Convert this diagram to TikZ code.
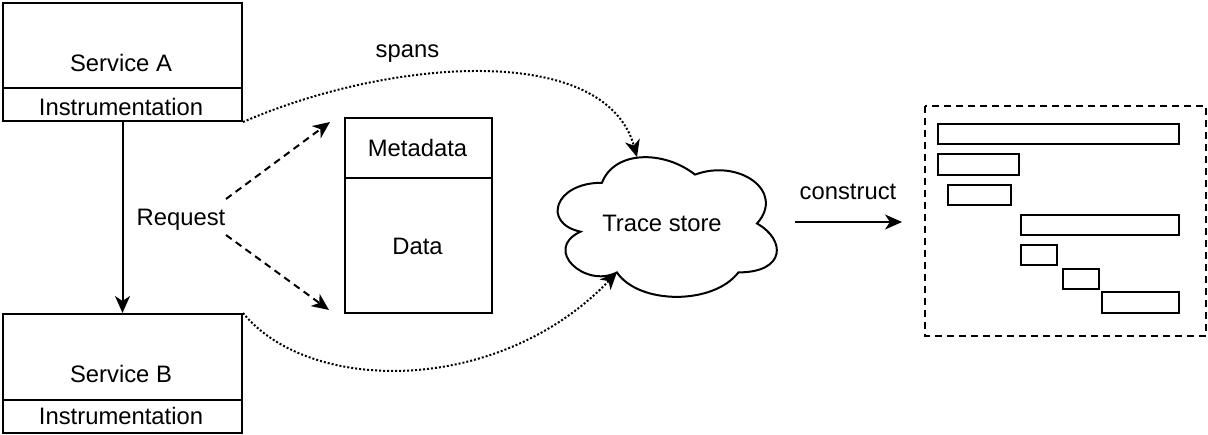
\documentclass[tikz,border=0pt]{standalone}
\usepackage{fontspec}
\setmainfont{Liberation Sans}
\usetikzlibrary{arrows.meta}
\tikzset{
  lw/.style={line width=2pt},
  box/.style={draw, lw, rectangle, inner sep=0pt, anchor=north west},
  txt/.style={font=\fontsize{23.8}{28}\selectfont, inner sep=0pt, anchor=base},
  tip/.style={-{Stealth[length=17pt,width=15pt,inset=5pt]}},
  solidarrow/.style={lw, tip},
  dasharrow/.style={lw, tip, dash pattern=on 7pt off 5pt},
  dotarrow/.style={lw, tip, dash pattern=on 2pt off 2pt},
  bar/.style={line width=2.2pt},
}
\begin{document}
\begin{tikzpicture}[x=1pt,y=-1pt]
\useasboundingbox (0,0) rectangle (1208,434);

% Service A
\node[box, minimum width=239pt, minimum height=85pt] (svcA) at (2,2) {};
\node[box, minimum width=239pt, minimum height=33pt] (instA) at (2,87) {};
\node[txt] (svcAt) at (121,71) {Service A};
\node[txt] (instAt) at (121,115) {Instrumentation};

% Service B
\node[box, minimum width=239pt, minimum height=86pt] (svcB) at (2,313) {};
\node[box, minimum width=239pt, minimum height=33pt] (instB) at (2,399) {};
\node[txt] (svcBt) at (121,382) {Service B};
\node[txt] (instBt) at (121,424) {Instrumentation};

% Request
\draw[solidarrow] (instA.south) -- (svcB.north);
\node[txt] (req) at (181,225.5) {Request};
\coordinate (reqUp) at (226,199);
\coordinate (reqDn) at (226,235);
\coordinate (upTip) at (330,122);
\coordinate (dnTip) at (329,310);
\draw[dasharrow] (reqUp) -- (upTip);
\draw[dasharrow] (reqDn) -- (dnTip);

% Metadata / Data
\node[box, minimum width=147pt, minimum height=60pt] (meta) at (344,117) {};
\node[box, minimum width=147pt, minimum height=135pt] (data) at (344,177) {};
\node[txt] (metat) at (417.5,156) {Metadata};
\node[txt] (datat) at (417.5,254) {Data};

% Cloud
\draw[lw] (602,182.75) .. controls (554,182.75) and (542,223.5) .. (580.5,231.65)
  .. controls (542,249.58) and (585.5,288.7) .. (616.88,272.4)
  .. controls (639.2,305) and (713.6,305) .. (738.4,272.4)
  .. controls (786,272.4) and (786,239.8) .. (757,223.5)
  .. controls (786,190.9) and (738.4,158.3) .. (695,174.6)
  .. controls (664,150.15) and (614.4,150.15) .. (602,182.75) -- cycle;
\node[txt] (store) at (662,231.7) {Trace store};
\coordinate (cloudTop) at (637,157);
\coordinate (cloudBL) at (616.88,272.4);

% spans curves
\node[txt] (spans) at (407.5,57) {spans};
\draw[dotarrow] (instA.south east) .. controls (390,58) and (605,42) .. (cloudTop);
\draw[dotarrow] (svcB.north east) .. controls (310,395) and (500,395) .. (cloudBL);

% construct
\node[txt] (constr) at (848,199) {construct};
\coordinate (cFrom) at (795,222);
\coordinate (cTo) at (902,222);
\draw[solidarrow] (cFrom) -- (cTo);

% Trace view
\draw[lw, dash pattern=on 7pt off 5pt] (925,106) rectangle (1206,336);
\draw[bar] (938,124) rectangle (1179,144);
\draw[bar] (938,154) rectangle (1019,175);
\draw[bar] (948,185) rectangle (1011,205);
\draw[bar] (1021,215) rectangle (1179,235);
\draw[bar] (1021,245) rectangle (1057,265);
\draw[bar] (1063,269) rectangle (1099,289);
\draw[bar] (1102,292) rectangle (1179,313);
\end{tikzpicture}
\end{document}
